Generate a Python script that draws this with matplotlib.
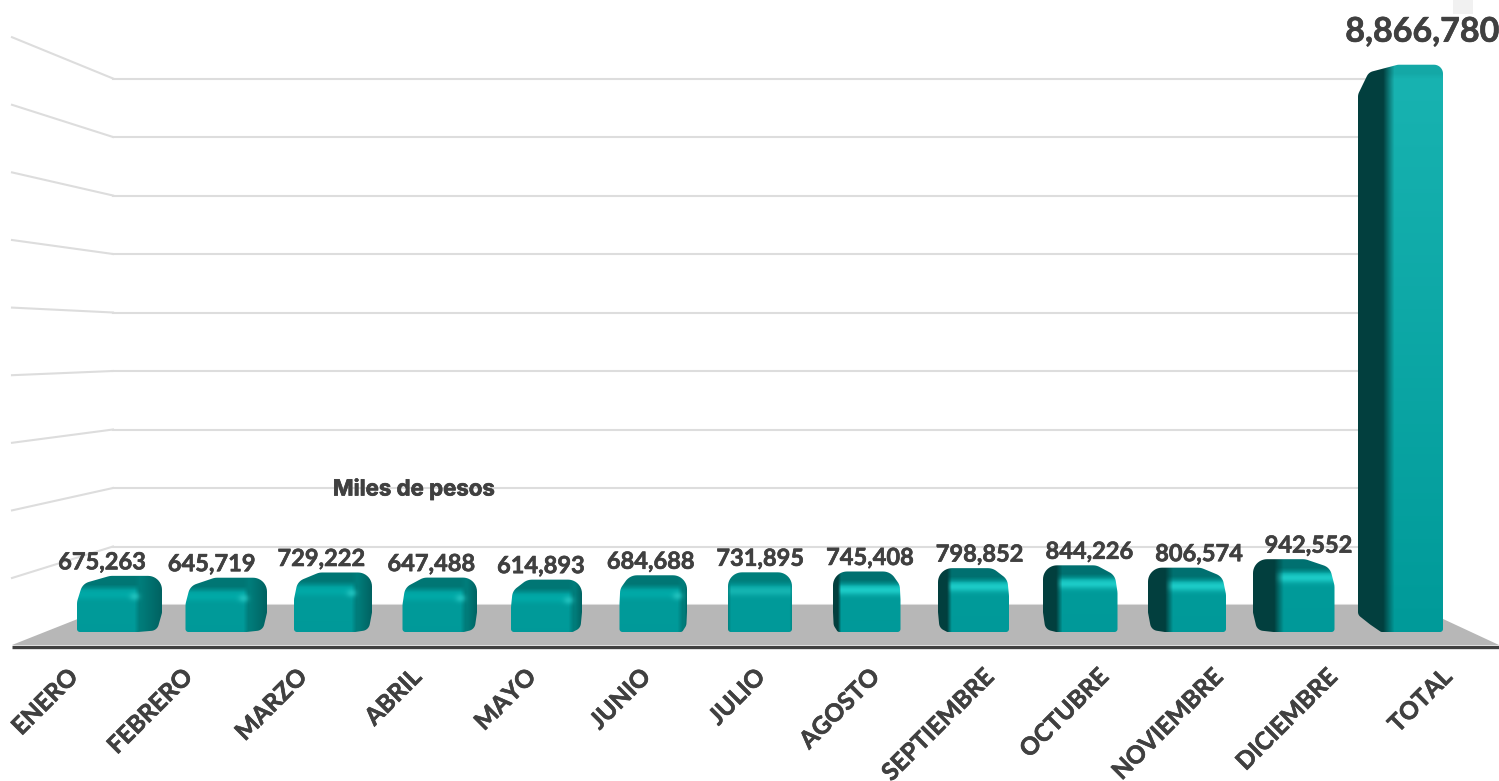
import matplotlib
matplotlib.use("Agg")
import matplotlib.pyplot as plt
import matplotlib.patheffects as pe
import numpy as np
from matplotlib.path import Path
from matplotlib.patches import PathPatch, Polygon, Rectangle
from matplotlib.colors import to_rgb

months = ["ENERO", "FEBRERO", "MARZO", "ABRIL", "MAYO", "JUNIO", "JULIO", "AGOSTO",
          "SEPTIEMBRE", "OCTUBRE", "NOVIEMBRE", "DICIEMBRE", "TOTAL"]
values = [675263, 645719, 729222, 647488, 614893, 684688, 731895, 745408,
          798852, 844226, 806574, 942552, 8866780]
grid_levels = [0, 1, 2, 3, 4, 5, 6, 7, 8, 9]

W, H = 1499, 781
X0, XS = 109, 108.5      # px of first bar, px per category
Y0, YS = 632, 62.4       # px of zero, px per million
BACK_Y0, BACK_YS = 605, 58.5
BAR_W = 64
DEPTH_Y = 14
DEPTH_X = 3.5            # sideways shift per category away from the middle
INK = "#404040"

plt.rcParams["font.family"] = ["Lato", "DejaVu Sans"]

fig = plt.figure(figsize=(W / 100, H / 100), dpi=100)
ax = fig.add_axes([0, 0, 1, 1])
ax.axis("off")


def px_x(p):
    return (p - X0) / XS


def px_y(p):
    return (Y0 - p) / YS


def wall_y(level):
    return px_y(BACK_Y0 - BACK_YS * level)


def blend(img, col, t):
    t = np.clip(t, 0, 1)[..., None]
    col = np.array(to_rgb(col)) if isinstance(col, str) else col
    return img * (1 - t) + col * t


def rounded(x0, x1, y0, y1, r_top, r_bot):
    a = np.linspace(0, np.pi / 2, 12)
    pts = [np.c_[x1 - r_top + r_top * np.cos(a), y1 - r_top + r_top * np.sin(a)],
           np.c_[x0 + r_top - r_top * np.sin(a), y1 - r_top + r_top * np.cos(a)],
           np.c_[x0 + r_bot - r_bot * np.cos(a), y0 + r_bot - r_bot * np.sin(a)],
           np.c_[x1 - r_bot + r_bot * np.sin(a), y0 + r_bot - r_bot * np.cos(a)]]
    return np.vstack(pts)


def hull(points):
    pts = sorted(map(tuple, points))

    def half(seq):
        out = []
        for p in seq:
            while len(out) > 1 and ((out[-1][0] - out[-2][0]) * (p[1] - out[-2][1])
                                    - (out[-1][1] - out[-2][1]) * (p[0] - out[-2][0])) <= 0:
                out.pop()
            out.append(p)
        return out[:-1]

    return np.array(half(pts) + half(pts[::-1]))


def draw_bar(i, value):
    h = value / 1e6 * YS
    dx = (6 - i) * DEPTH_X
    dy = DEPTH_Y
    is_total = i == len(values) - 1
    w = BAR_W

    front = rounded(0, w, 0, h, 14, 3)
    if is_total:
        # the tall bar: side drops away from the top edge, right corner stays tight
        parts = [front, rounded(dx, w, dy, h - 8, 10, 6), rounded(11, w, dy, h + dy, 9, 6),
                 rounded(dx + 8, w, dy * 0.4, h + dy * 0.55, 9, 10)]
    else:
        back = rounded(dx, w + dx, dy, h + dy, 14, 6)
        # a rect part way back keeps the silhouette round instead of chamfered
        lo, hi = min(0, dx) + abs(dx) * 0.15, w + max(0, dx) - abs(dx) * 0.15
        parts = [front, back, rounded(lo, hi, dy * 0.08, h + dy * 0.6, 12, 8)]
    outline = hull(np.vstack(parts))

    x0, x1 = outline[:, 0].min() - 2, outline[:, 0].max() + 2
    y0, y1 = outline[:, 1].min() - 2, outline[:, 1].max() + 2
    xx, yy = np.meshgrid(np.arange(x0, x1, 1.0), np.arange(y0, y1, 1.0))

    # front face
    img = np.ones(xx.shape + (3,)) * np.array(to_rgb("#009a99"))
    if is_total:
        img = blend(img, "#18b3b1", yy / h)

    # top bevel
    below_top = h - yy
    if is_total:
        top_col, band_col = "#14a8a6", "#18b3b1"
    elif i > 6:
        top_col, band_col = "#007170", "#1ccbc7"
    elif i == 6:
        top_col, band_col = "#007f7d", "#14b4b1"
    else:
        top_col, band_col = "#007674", "#00a9a7"
    img = blend(img, band_col, np.exp(-((below_top - 5) / 5.0) ** 2))
    img = blend(img, top_col, (1 - below_top) / 6.0)

    # side faces
    if i < 6:
        side = blend(np.ones(xx.shape + (3,)) * np.array(to_rgb("#007c7a")), "#006160",
                     (xx - w) / max(dx, 1))
        img = blend(img, side, (xx - (w - 7)) / 5.0)
        spot = np.exp(-(((xx - (w - 7)) / 5.0) ** 2 + ((yy - (h - 7)) / 4.0) ** 2))
        img = blend(img, "#25c4c0", spot * 0.8)
    elif i > 6:
        spread = 2 + 13 * (i - 6) / 6
        img = blend(img, "#023f3e", (spread - xx) / (spread * 0.75))
    else:
        edge = np.minimum(xx, w - xx)
        img = blend(img, "#007f7d", (3 - edge) / 4.0)

    path = Path(np.c_[(outline[:, 0] - w / 2) / XS + i, outline[:, 1] / YS], closed=False)
    clip = PathPatch(path, facecolor="none", edgecolor="none", transform=ax.transData)
    ax.add_patch(clip)
    im = ax.imshow(np.clip(img, 0, 1), origin="lower", aspect="auto", interpolation="bilinear",
                   extent=[(x0 - w / 2) / XS + i, (x1 - w / 2) / XS + i, y0 / YS, y1 / YS],
                   zorder=4)
    im.set_clip_path(clip)
    return (h + dy) / YS


# back wall and side wall grid
for level in grid_levels:
    ax.plot([px_x(113), px_x(1400)], [wall_y(level)] * 2, color="#dddddd", lw=1.5, zorder=1)
    if level > 0:
        ax.plot([px_x(12), px_x(113)], [px_y(645.6 - 67.6 * level), wall_y(level)],
                color="#dddddd", lw=1.5, zorder=1)

# floor and base line
ax.add_patch(Polygon([(px_x(113), wall_y(0)), (px_x(1413), wall_y(0)), (px_x(1499), px_y(645)),
                      (px_x(12), px_y(645))], closed=True, facecolor="#b7b7b7", edgecolor="none",
                     zorder=2))
ax.plot([px_x(12), px_x(1499)], [px_y(646.5)] * 2, color="#404040", lw=2.4, zorder=3,
        solid_capstyle="butt")

# faint leftover block in the top corner
ax.add_patch(Rectangle((px_x(1453), px_y(14)), 20 / XS, 14 / YS, facecolor="#f1f1f1",
                       edgecolor="none", zorder=1))

bold = [pe.withStroke(linewidth=0.45, foreground=INK)]
for i, (name, value) in enumerate(zip(months, values)):
    top = draw_bar(i, value)
    last = i == len(values) - 1
    ax.annotate(f"{value:,}", (i, top), xytext=(-7 + 1.2 * i + (4 if last else 0), 33 if last else 14),
                textcoords="offset pixels", ha="center", va="center", color=INK, weight="bold",
                fontsize=24.5 if last else 17, zorder=6, path_effects=bold)
    ax.text(px_x(74 + 114.5 * i), px_y(673), name, rotation=45, rotation_mode="anchor",
            ha="right", va="center", color=INK, weight="bold", fontsize=17.5, zorder=6,
            path_effects=bold)

ax.text(px_x(414), px_y(489), "Miles de pesos", ha="center", va="center", color=INK,
        family=["Inter", "DejaVu Sans"], weight="bold", fontsize=16, zorder=6,
        path_effects=[pe.withStroke(linewidth=0.5, foreground=INK)])

ax.set_xlim(-X0 / XS, (W - X0) / XS)
ax.set_ylim((Y0 - H) / YS, Y0 / YS)
fig.savefig("out.png", dpi=100)
